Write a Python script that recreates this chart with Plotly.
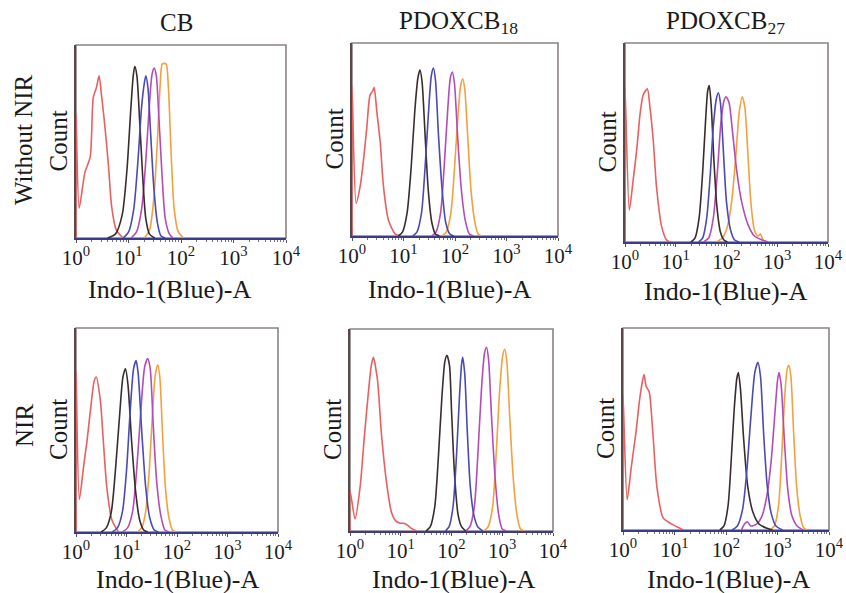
import numpy as np
import plotly.graph_objects as go

# ---------------- data (x in log10 decades of Indo-1(Blue)-A, y = relative count) -------------
col_titles = ["CB", "PDOXCB<sub>18</sub>", "PDOXCB<sub>27</sub>"]
row_titles = ["Without NIR", "NIR"]
tick_vals = [1, 10, 100, 1000, 10000]
tick_text = ["10<sup>0</sup>", "10<sup>1</sup>", "10<sup>2</sup>", "10<sup>3</sup>", "10<sup>4</sup>"]
series_names = ["red", "orange", "magenta", "black", "blue"]

# Panel A: Without NIR / CB
a_red_x = [0, 0, 0.06, 0.17, 0.27, 0.33, 0.39, 0.44, 0.49, 0.55, 0.62, 0.68, 0.77, 0.9]
a_red_y = [0, 0.64, 0.155, 0.34, 0.42, 0.73, 0.78, 0.84, 0.73, 0.58, 0.37, 0.16, 0.04, 0.0]
a_blk_x = [0.6, 0.75, 0.88, 0.97, 1.04, 1.09, 1.12, 1.16, 1.21, 1.27, 1.33, 1.4, 1.5]
a_blk_y = [0, 0.02, 0.12, 0.35, 0.65, 0.84, 0.89, 0.84, 0.62, 0.32, 0.1, 0.02, 0]
a_blu_x = [0.9, 1.0, 1.1, 1.18, 1.25, 1.3, 1.33, 1.37, 1.42, 1.48, 1.55, 1.62, 1.7]
a_blu_y = [0, 0.03, 0.15, 0.4, 0.68, 0.8, 0.84, 0.78, 0.55, 0.27, 0.08, 0.01, 0]
a_mag_x = [1.05, 1.15, 1.25, 1.33, 1.4, 1.45, 1.49, 1.53, 1.58, 1.64, 1.7, 1.78, 1.85]
a_mag_y = [0, 0.03, 0.15, 0.4, 0.7, 0.85, 0.88, 0.84, 0.62, 0.32, 0.1, 0.02, 0]
a_orn_x = [1.3, 1.4, 1.48, 1.55, 1.6, 1.64, 1.68, 1.72, 1.76, 1.81, 1.87, 1.95, 2.05]
a_orn_y = [0, 0.04, 0.2, 0.5, 0.78, 0.9, 0.905, 0.9, 0.78, 0.45, 0.15, 0.03, 0]

# Panel B: Without NIR / PDOXCB18
b_red_x = [0, 0, 0.08, 0.16, 0.23, 0.29, 0.35, 0.40, 0.43, 0.48, 0.55, 0.61, 0.71, 0.84, 0.94]
b_red_y = [0, 0.78, 0.17, 0.26, 0.41, 0.57, 0.73, 0.75, 0.77, 0.65, 0.48, 0.26, 0.08, 0.01, 0]
b_blk_x = [0.9, 0.98, 1.07, 1.15, 1.22, 1.28, 1.32, 1.36, 1.42, 1.48, 1.55, 1.62, 1.7]
b_blk_y = [0, 0.02, 0.12, 0.36, 0.65, 0.82, 0.86, 0.8, 0.52, 0.24, 0.07, 0.01, 0]
b_blu_x = [1.18, 1.26, 1.35, 1.42, 1.49, 1.54, 1.58, 1.62, 1.68, 1.75, 1.82, 1.9, 1.98]
b_blu_y = [0, 0.02, 0.12, 0.36, 0.66, 0.83, 0.87, 0.81, 0.52, 0.24, 0.07, 0.01, 0]
b_mag_x = [1.55, 1.63, 1.72, 1.79, 1.86, 1.91, 1.95, 1.99, 2.05, 2.12, 2.2, 2.28, 2.36]
b_mag_y = [0, 0.02, 0.12, 0.36, 0.66, 0.82, 0.85, 0.79, 0.52, 0.25, 0.08, 0.01, 0]
b_orn_x = [1.75, 1.83, 1.92, 1.99, 2.06, 2.11, 2.15, 2.19, 2.25, 2.31, 2.38, 2.45, 2.52]
b_orn_y = [0, 0.02, 0.12, 0.35, 0.63, 0.78, 0.815, 0.76, 0.5, 0.24, 0.08, 0.01, 0]

# Panel C: Without NIR / PDOXCB27
c_red_x = [0, 0, 0.085, 0.16, 0.23, 0.30, 0.36, 0.44, 0.49, 0.56, 0.62, 0.72, 0.82, 0.89]
c_red_y = [0, 0.78, 0.16, 0.31, 0.46, 0.65, 0.74, 0.77, 0.68, 0.5, 0.28, 0.08, 0.01, 0]
c_blk_x = [1.3, 1.38, 1.46, 1.53, 1.59, 1.63, 1.66, 1.7, 1.75, 1.81, 1.88, 1.95, 2.02]
c_blk_y = [0, 0.02, 0.12, 0.35, 0.62, 0.76, 0.786, 0.68, 0.42, 0.18, 0.05, 0.01, 0]
c_blu_x = [1.45, 1.53, 1.61, 1.68, 1.74, 1.8, 1.84, 1.88, 1.94, 2.0, 2.08, 2.16, 2.25]
c_blu_y = [0, 0.02, 0.12, 0.34, 0.58, 0.72, 0.75, 0.7, 0.45, 0.2, 0.06, 0.01, 0]
c_mag_x = [1.55, 1.65, 1.74, 1.82, 1.89, 1.95, 1.99, 2.05, 2.12, 2.2, 2.3, 2.42, 2.55, 2.7, 2.82]
c_mag_y = [0, 0.02, 0.12, 0.35, 0.6, 0.71, 0.73, 0.7, 0.55, 0.36, 0.2, 0.09, 0.03, 0.01, 0]
c_orn_x = [1.8, 1.92, 2.02, 2.1, 2.18, 2.25, 2.31, 2.36, 2.42, 2.48, 2.55, 2.62, 2.67, 2.72, 2.8]
c_orn_y = [0, 0.02, 0.08, 0.2, 0.42, 0.65, 0.73, 0.68, 0.45, 0.2, 0.06, 0.03, 0.04, 0.01, 0]

# Panel D: NIR / CB
d_red_x = [0, 0, 0.066, 0.15, 0.22, 0.31, 0.36, 0.40, 0.48, 0.54, 0.61, 0.71, 0.84]
d_red_y = [0, 0.78, 0.16, 0.32, 0.45, 0.65, 0.74, 0.76, 0.65, 0.45, 0.22, 0.06, 0]
d_blk_x = [0.5, 0.6, 0.7, 0.78, 0.86, 0.93, 0.98, 1.03, 1.1, 1.18, 1.26, 1.34, 1.42]
d_blk_y = [0, 0.02, 0.1, 0.3, 0.56, 0.76, 0.8, 0.72, 0.45, 0.2, 0.06, 0.01, 0]
d_blu_x = [0.72, 0.82, 0.92, 1.0, 1.07, 1.14, 1.19, 1.23, 1.3, 1.38, 1.46, 1.55, 1.63]
d_blu_y = [0, 0.02, 0.1, 0.3, 0.58, 0.8, 0.84, 0.78, 0.5, 0.22, 0.07, 0.01, 0]
d_mag_x = [0.92, 1.02, 1.12, 1.2, 1.28, 1.36, 1.42, 1.47, 1.53, 1.6, 1.68, 1.76, 1.84]
d_mag_y = [0, 0.02, 0.1, 0.3, 0.58, 0.81, 0.85, 0.8, 0.52, 0.24, 0.08, 0.01, 0]
d_orn_x = [1.22, 1.3, 1.38, 1.45, 1.51, 1.57, 1.62, 1.66, 1.71, 1.77, 1.84, 1.91, 1.98]
d_orn_y = [0, 0.02, 0.1, 0.3, 0.56, 0.77, 0.82, 0.76, 0.5, 0.22, 0.07, 0.01, 0]

# Panel E: NIR / PDOXCB18
e_red_x = [0, 0, 0.1, 0.2, 0.28, 0.36, 0.42, 0.46, 0.54, 0.62, 0.72, 0.82, 0.9, 0.98, 1.1, 1.21, 1.31]
e_red_y = [0, 0.2, 0.06, 0.22, 0.46, 0.68, 0.82, 0.86, 0.75, 0.48, 0.24, 0.09, 0.05, 0.04, 0.035, 0.013, 0]
e_blk_x = [1.5, 1.58, 1.67, 1.74, 1.81, 1.87, 1.91, 1.96, 2.0, 2.06, 2.13, 2.2, 2.28]
e_blk_y = [0, 0.02, 0.12, 0.36, 0.66, 0.84, 0.87, 0.82, 0.6, 0.28, 0.08, 0.02, 0]
e_blu_x = [1.88, 1.95, 2.03, 2.1, 2.16, 2.2, 2.22, 2.26, 2.31, 2.37, 2.44, 2.52, 2.62]
e_blu_y = [0, 0.02, 0.12, 0.38, 0.68, 0.83, 0.86, 0.78, 0.5, 0.22, 0.08, 0.02, 0]
e_mag_x = [2.28, 2.36, 2.45, 2.52, 2.59, 2.65, 2.69, 2.73, 2.79, 2.86, 2.93, 3.0, 3.08]
e_mag_y = [0, 0.02, 0.12, 0.38, 0.7, 0.88, 0.91, 0.85, 0.56, 0.26, 0.08, 0.01, 0]
e_orn_x = [2.64, 2.72, 2.81, 2.88, 2.95, 3.01, 3.05, 3.09, 3.15, 3.22, 3.29, 3.36, 3.44]
e_orn_y = [0, 0.02, 0.12, 0.38, 0.7, 0.87, 0.9, 0.84, 0.55, 0.25, 0.08, 0.01, 0]

# Panel F: NIR / PDOXCB27
f_red_x = [0, 0, 0.08, 0.16, 0.25, 0.32, 0.38, 0.41, 0.45, 0.5, 0.52, 0.58, 0.66, 0.78, 0.94, 1.04, 1.17]
f_red_y = [0, 0.67, 0.15, 0.31, 0.48, 0.64, 0.74, 0.77, 0.71, 0.69, 0.67, 0.48, 0.21, 0.06, 0.03, 0.017, 0]
f_blk_x = [1.88, 1.96, 2.04, 2.1, 2.16, 2.21, 2.24, 2.28, 2.34, 2.42, 2.52, 2.64, 2.78, 2.9]
f_blk_y = [0, 0.02, 0.12, 0.34, 0.6, 0.75, 0.78, 0.7, 0.46, 0.22, 0.09, 0.03, 0.01, 0]
f_blu_x = [2.12, 2.22, 2.32, 2.4, 2.48, 2.56, 2.62, 2.67, 2.73, 2.8, 2.88, 2.97, 3.1]
f_blu_y = [0, 0.02, 0.1, 0.28, 0.55, 0.78, 0.83, 0.76, 0.48, 0.22, 0.08, 0.02, 0]
f_mag_x = [2.3, 2.36, 2.42, 2.48, 2.6, 2.7, 2.8, 2.88, 2.95, 3.0, 3.03, 3.07, 3.13, 3.2, 3.28, 3.38, 3.5]
f_mag_y = [0, 0.03, 0.04, 0.02, 0.03, 0.07, 0.18, 0.35, 0.58, 0.74, 0.78, 0.72, 0.46, 0.2, 0.07, 0.02, 0]
f_orn_x = [2.86, 2.94, 3.02, 3.08, 3.14, 3.19, 3.22, 3.26, 3.31, 3.37, 3.44, 3.51, 3.58]
f_orn_y = [0, 0.02, 0.12, 0.36, 0.66, 0.8, 0.815, 0.76, 0.5, 0.22, 0.07, 0.01, 0]

panels = [
    {"red": (a_red_x, a_red_y), "orange": (a_orn_x, a_orn_y), "magenta": (a_mag_x, a_mag_y),
     "black": (a_blk_x, a_blk_y), "blue": (a_blu_x, a_blu_y)},
    {"red": (b_red_x, b_red_y), "orange": (b_orn_x, b_orn_y), "magenta": (b_mag_x, b_mag_y),
     "black": (b_blk_x, b_blk_y), "blue": (b_blu_x, b_blu_y)},
    {"red": (c_red_x, c_red_y), "orange": (c_orn_x, c_orn_y), "magenta": (c_mag_x, c_mag_y),
     "black": (c_blk_x, c_blk_y), "blue": (c_blu_x, c_blu_y)},
    {"red": (d_red_x, d_red_y), "orange": (d_orn_x, d_orn_y), "magenta": (d_mag_x, d_mag_y),
     "black": (d_blk_x, d_blk_y), "blue": (d_blu_x, d_blu_y)},
    {"red": (e_red_x, e_red_y), "orange": (e_orn_x, e_orn_y), "magenta": (e_mag_x, e_mag_y),
     "black": (e_blk_x, e_blk_y), "blue": (e_blu_x, e_blu_y)},
    {"red": (f_red_x, f_red_y), "orange": (f_orn_x, f_orn_y), "magenta": (f_mag_x, f_mag_y),
     "black": (f_blk_x, f_blk_y), "blue": (f_blu_x, f_blu_y)},
]

# ---------------- styling ----------------
W, H = 846, 593
colors = {"red": "#e8605f", "orange": "#f4a03e", "magenta": "#b44cb8",
          "black": "#3a2c2c", "blue": "#4a4ab4"}
FONT = "Liberation Serif, Times New Roman, serif"


def px(x):
    return x / W


def py(y):
    return 1 - y / H


# panel boxes in window pixels: (left, right, top, bottom)
boxes = [(76, 286, 45, 238), (352, 558, 43, 236), (625, 828, 43, 242),
         (76, 278, 328, 532), (350, 553, 329, 531), (623, 829, 328, 530)]
xtitle_cx = [169, 449, 725, 177, 453, 728]
xtitle_cy = [289, 289, 291, 579, 579, 579]

fig = go.Figure()
layout = dict(width=W, height=H, margin=dict(l=0, r=0, t=0, b=0, autoexpand=False),
              paper_bgcolor="white", plot_bgcolor="white", showlegend=False,
              font=dict(family=FONT, color="#1a1a1a"))
annotations = []
shapes = []

for i, (pan, box) in enumerate(zip(panels, boxes)):
    k = "" if i == 0 else str(i + 1)
    xa, ya = "x" + k, "y" + k
    for name in series_names:
        lx, yy = pan[name]
        fig.add_trace(go.Scatter(
            x=10 ** np.array(lx, dtype=float), y=yy, xaxis=xa, yaxis=ya, mode="lines",
            line=dict(color=colors[name], width=1.6, shape="spline", smoothing=0.7),
            hoverinfo="skip"))
    l, r, t, b = box
    layout["xaxis" + k] = dict(
        domain=[px(l), px(r)], anchor=ya, type="log", range=[0, 4], automargin=False,
        tickvals=tick_vals, ticktext=tick_text, ticks="outside", ticklen=3,
        tickcolor="#555", tickwidth=1, ticklabeloverflow="allow", ticklabelstandoff=-3,
        minor=dict(ticks="outside", ticklen=2, dtick="D1", tickcolor="#777", showgrid=False),
        showgrid=False, zeroline=False, showline=True, linecolor="#3b3b8c", linewidth=2,
        tickfont=dict(family=FONT, size=21, color="#1a1a1a"), layer="below traces",
        fixedrange=True)
    layout["yaxis" + k] = dict(
        domain=[py(b), py(t)], anchor=xa, range=[0, 1], automargin=False,
        showticklabels=False, ticks="", showgrid=False, zeroline=False,
        showline=True, linecolor="#5a4848", linewidth=1.6, layer="below traces",
        fixedrange=True)
    shapes.append(dict(type="rect", xref=xa + " domain", yref=ya + " domain",
                       x0=0, x1=1, y0=0, y1=1, line=dict(color="#8c8282", width=1.6),
                       layer="below"))
    # Count label
    annotations.append(dict(text="Count", xref="paper", yref="paper",
                            x=px(l - 18), y=py((t + b) / 2), showarrow=False,
                            textangle=-90, font=dict(size=25, family=FONT),
                            xanchor="center", yanchor="middle"))
    # x title
    annotations.append(dict(text="Indo-1(Blue)-A", xref="paper", yref="paper",
                            x=px(xtitle_cx[i]), y=py(xtitle_cy[i]), showarrow=False,
                            font=dict(size=26, family=FONT), xanchor="center", yanchor="middle"))

col_cx = [176, 459, 725]
for j, txt in enumerate(col_titles):
    annotations.append(dict(text=txt, xref="paper", yref="paper", x=px(col_cx[j]),
                            y=py(22), showarrow=False, font=dict(size=25, family=FONT),
                            xanchor="center", yanchor="middle"))
row_cy = [140, 426]
for j, txt in enumerate(row_titles):
    annotations.append(dict(text=txt, xref="paper", yref="paper", x=px(24),
                            y=py(row_cy[j]), showarrow=False, textangle=-90,
                            font=dict(size=25, family=FONT), xanchor="center", yanchor="middle"))

layout["annotations"] = annotations
layout["shapes"] = shapes
fig.update_layout(**layout)
fig.write_html("out.html", config={"displayModeBar": False, "staticPlot": True},
               post_script="document.body.style.margin='0';document.body.style.overflow='hidden';")
